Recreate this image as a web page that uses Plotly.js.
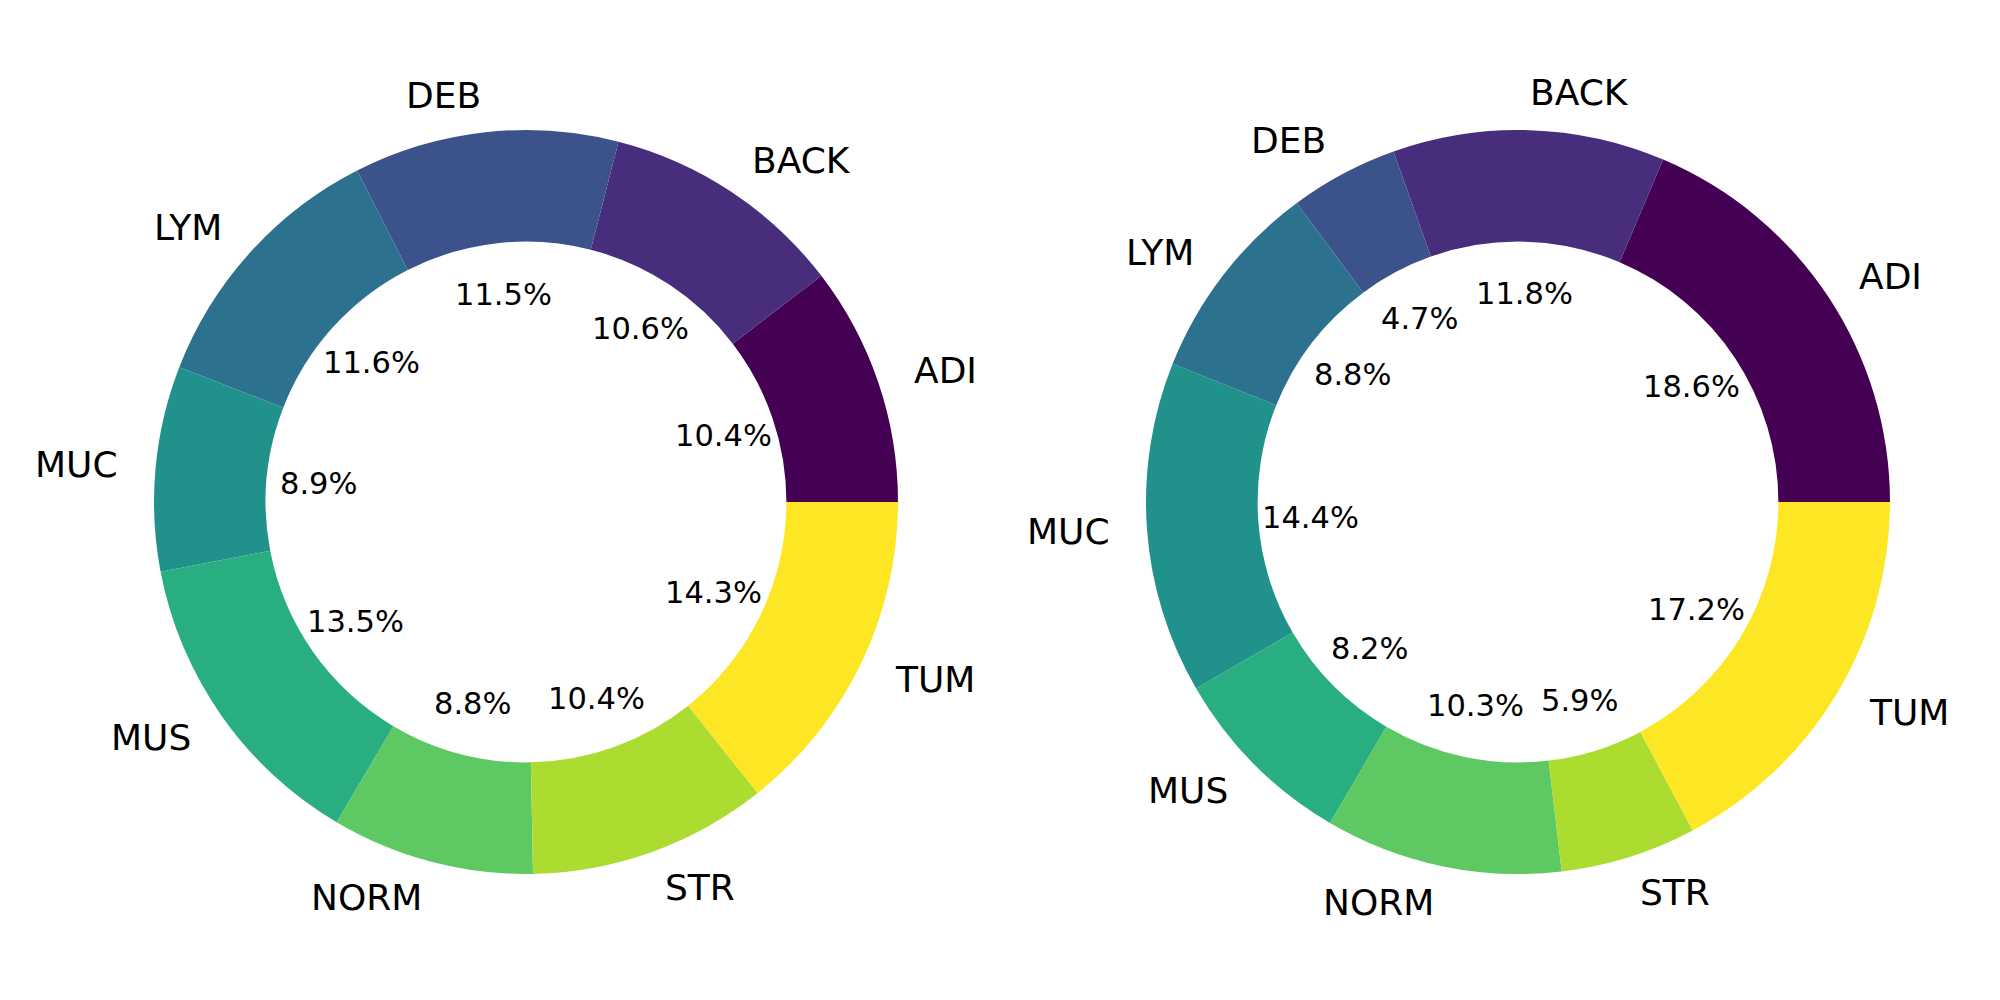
<!DOCTYPE html>
<html>
<head>
<meta charset="utf-8">
<script src="https://cdn.plot.ly/plotly-3.0.1.min.js"></script>
<style>
body { margin: 0; background: #fff; }
#chart { width: 2000px; height: 1000px; }
</style>
</head>
<body>
<div id="chart"></div>
<script>
var classes = ['ADI', 'BACK', 'DEB', 'LYM', 'MUC', 'MUS', 'NORM', 'STR', 'TUM'];
var left_values = [10.4, 10.6, 11.5, 11.6, 8.9, 13.5, 8.8, 10.4, 14.3];
var right_values = [18.6, 11.8, 4.7, 8.8, 14.4, 8.2, 10.3, 5.9, 17.2];
var viridis = ['#440154', '#472d7b', '#3b528b', '#2c728e', '#21918c',
               '#28ae80', '#5ec962', '#addc30', '#fde725'];

// figure geometry (pixels)
var W = 2000, H = 1000;
var R = 372;
var centers = [[526, 502], [1518, 502]];
var label_dist = 1.1, pct_dist = 0.56;

function sum(a){
    var t = 0;
    for(var i = 0; i < a.length; i++) t += a[i];
    return t;
}

function make_pie(values, c){
    // plotly puts the first counterclockwise slice on the clockwise side of
    // 'rotation', so shift it to make ADI start at 3 o'clock and go up
    var first_deg = 360 * values[0] / sum(values);
    return {
        type: 'pie',
        labels: classes,
        values: values,
        sort: false,
        direction: 'counterclockwise',
        rotation: 90 - first_deg,
        hole: 0.7,
        textinfo: 'none',
        hoverinfo: 'label+percent',
        marker: {colors: viridis, line: {width: 0}},
        domain: {
            x: [(c[0] - R) / W, (c[0] + R) / W],
            y: [1 - (c[1] + R) / H, 1 - (c[1] - R) / H]
        }
    };
}

// label and percent texts, placed like matplotlib's pie()
function make_texts(values, c){
    var out = [];
    var total = sum(values);
    var start = 0;
    for(var i = 0; i < values.length; i++){
        var frac = values[i] / total;
        var mid = (start + frac / 2) * 2 * Math.PI;
        start += frac;
        var cs = Math.cos(mid), sn = Math.sin(mid);

        out.push({
            x: (c[0] + label_dist * R * cs) / W,
            y: 1 - (c[1] - label_dist * R * sn) / H,
            xref: 'paper', yref: 'paper',
            text: classes[i],
            showarrow: false,
            borderpad: 0, borderwidth: 0,
            xanchor: cs > 0 ? 'left' : 'right',
            yanchor: 'middle',
            font: {family: 'DejaVu Sans', size: 36, color: '#000'}
        });
        out.push({
            x: (c[0] + pct_dist * R * cs) / W,
            y: 1 - (c[1] - pct_dist * R * sn) / H,
            xref: 'paper', yref: 'paper',
            text: (frac * 100).toFixed(1) + '%',
            showarrow: false,
            borderpad: 0, borderwidth: 0,
            xanchor: 'center',
            yanchor: 'middle',
            font: {family: 'DejaVu Sans', size: 30.5, color: '#000'}
        });
    }
    return out;
}

var data = [make_pie(left_values, centers[0]), make_pie(right_values, centers[1])];

var layout = {
    width: W,
    height: H,
    margin: {l: 0, r: 0, t: 0, b: 0},
    paper_bgcolor: '#fff',
    showlegend: false,
    annotations: make_texts(left_values, centers[0]).concat(make_texts(right_values, centers[1]))
};

Plotly.newPlot('chart', data, layout, {displayModeBar: false, staticPlot: true});
</script>
</body>
</html>
